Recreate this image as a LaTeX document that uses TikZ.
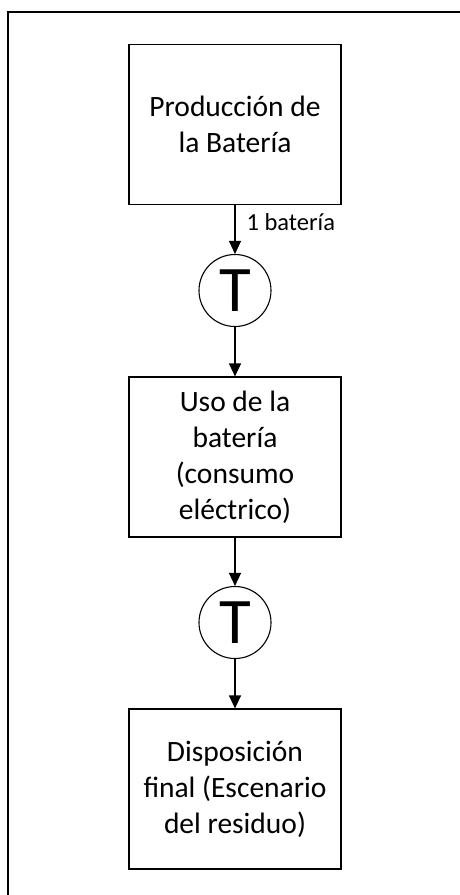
\documentclass[tikz,border=0pt]{standalone}
\usepackage{fontspec}
\setmainfont{Carlito}
\usetikzlibrary{arrows.meta,positioning}

\begin{document}
\begin{tikzpicture}[
        x=1pt, y=-1pt,
        >={Triangle[width=12pt,length=13pt]},
        etapa/.style={rectangle, draw, line width=1.2pt, minimum width=212pt, minimum height=160pt,
            align=center, inner sep=0pt, font=\fontsize{29.5}{36}\selectfont},
        transporte/.style={circle, draw, line width=1.1pt, minimum size=72pt, inner sep=0pt,
            font=\fontsize{65}{65}\selectfont},
        flujo/.style={->, line width=1.2pt}
    ]

        \useasboundingbox (0,0) rectangle (460,895);

        % Marco
        \draw[line width=1.6pt] (460,12) -- (8,12) -- (8,895);

        % Etapas
        \node[etapa] (produccion) at (235,124.5) {Producción de\\la Batería};
        \node[transporte] (t1) at (235,290.5) {T};
        \node[etapa] (uso) at (235,457) {Uso de la\\batería\\(consumo\\eléctrico)};
        \node[transporte] (t2) at (235,622.5) {T};
        \node[etapa] (disposicion) at (235,789) {Disposición\\final (Escenario\\del residuo)};

        % Flujos
        \draw[flujo] (produccion) -- node[pos=0.35, anchor=west, xshift=11pt, inner sep=0pt,
            font=\fontsize{24.5}{28}\selectfont] {1 batería} (t1);
        \draw[flujo] (t1) -- (uso);
        \draw[flujo] (uso) -- (t2);
        \draw[flujo] (t2) -- (disposicion);

    \end{tikzpicture}
\end{document}
